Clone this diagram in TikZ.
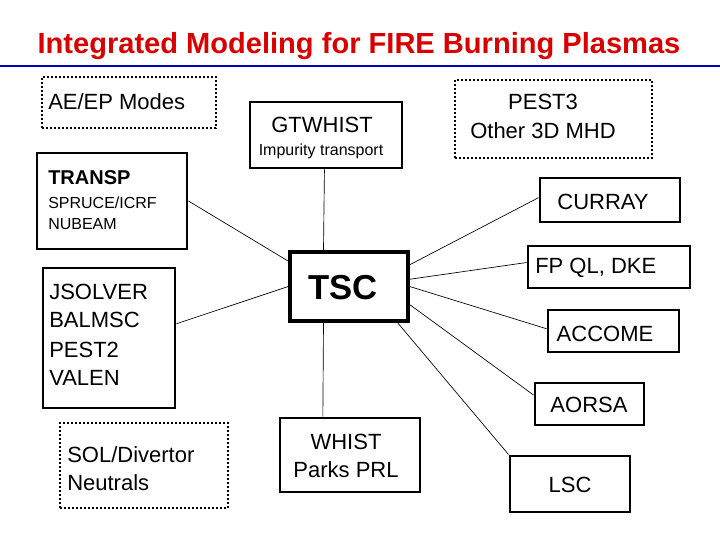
\documentclass[tikz,border=0pt]{standalone}
\usepackage{fontspec}
\setmainfont{Liberation Sans}
\usetikzlibrary{calc}
\begin{document}
\begin{tikzpicture}[x=0.75pt,y=-0.75pt,
  box/.style={draw,line width=2.2pt,minimum width=#1,inner sep=0pt},
  dbox/.style={draw,line width=2.2pt,dash pattern=on 1.5pt off 1.5pt,inner sep=0pt},
  lbl/.style={inner sep=0pt,font=\fontsize{16.5}{19}\selectfont},
  sm/.style={inner sep=0pt,font=\fontsize{12}{14}\selectfont},
  conn/.style={line width=0.5pt}]
\useasboundingbox (0,0) rectangle (720,540);
\node[inner sep=0pt,text=red!85!black,font=\bfseries\fontsize{21.8}{24}\selectfont] (title) at (359,46) {Integrated Modeling for FIRE Burning Plasmas};
\draw[line width=2.2pt,blue!70!black] (0,66) coordinate (l0) -- (720,66) coordinate (l1);
% boxes
\node[dbox,minimum width=174*0.75pt,minimum height=51*0.75pt] (aeep) at (129,102.5) {};
\node[lbl,anchor=west] (taeep) at (48,102) {AE/EP Modes};
\node[box=152*0.75pt,minimum height=66*0.75pt] (gtw) at (326,135) {};
\node[lbl] (tgtw) at (322,125) {GTWHIST};
\node[sm] (timp) at (321,151) {Impurity transport};
\node[dbox,minimum width=197*0.75pt,minimum height=78*0.75pt] (pest) at (553.5,119) {};
\node[lbl] (tpest1) at (543,102) {PEST3};
\node[lbl] (tpest2) at (543,131) {Other 3D MHD};
\node[box=150*0.75pt,minimum height=96*0.75pt] (transp) at (112,201) {};
\node[inner sep=0pt,anchor=west,font=\bfseries\fontsize{15}{17}\selectfont] (ttr1) at (48,178) {TRANSP};
\node[sm,anchor=west] (ttr2) at (48,203) {SPRUCE/ICRF};
\node[sm,anchor=west] (ttr3) at (48,224) {NUBEAM};
\node[box=140*0.75pt,minimum height=44*0.75pt] (curray) at (610,200) {};
\node[lbl] (tcur) at (603,202) {CURRAY};
\node[box=132*0.75pt,minimum height=140*0.75pt] (jsol) at (109,338) {};
\node[lbl,anchor=west] (tj1) at (49,292) {JSOLVER};
\node[lbl,anchor=west] (tj2) at (49,320) {BALMSC};
\node[lbl,anchor=west] (tj3) at (49,350) {PEST2};
\node[lbl,anchor=west] (tj4) at (49,378) {VALEN};
\node[box=118*0.75pt,minimum height=69*0.75pt,line width=2.6pt] (tsc) at (349,286.5) {};
\node[inner sep=0pt,font=\bfseries\fontsize{26}{30}\selectfont] (ttsc) at (343,288) {TSC};
\node[box=162*0.75pt,minimum height=42*0.75pt] (fpql) at (609,267) {};
\node[lbl,anchor=west] (tfp) at (535,268) {FP QL, DKE};
\node[box=131*0.75pt,minimum height=42*0.75pt] (accome) at (613.5,331) {};
\node[lbl] (tacc) at (605,334) {ACCOME};
\node[box=109*0.75pt,minimum height=42*0.75pt] (aorsa) at (589.5,404) {};
\node[lbl] (taor) at (589,405) {AORSA};
\node[dbox,minimum width=168*0.75pt,minimum height=85*0.75pt] (sol) at (144,465.5) {};
\node[lbl,anchor=west] (ts1) at (67,455) {SOL/Divertor};
\node[lbl,anchor=west] (ts2) at (67,483) {Neutrals};
\node[box=140*0.75pt,minimum height=74*0.75pt] (whist) at (350,455) {};
\node[lbl] (tw1) at (346,442) {WHIST};
\node[lbl] (tw2) at (346,470) {Parks PRL};
\node[box=120*0.75pt,minimum height=56*0.75pt] (lsc) at (570,484) {};
\node[lbl] (tlsc) at (570,485) {LSC};
% connectors
\draw[conn] (transp.east) -- ($(tsc.north west)!0.15!(tsc.south west)$);
\draw[conn] ($(gtw.south west)!0.49!(gtw.south east)$) -- ($(tsc.north west)!0.29!(tsc.north east)$);
\draw[conn] ($(curray.north west)!0.45!(curray.south west)$) -- ($(tsc.north east)!0.2!(tsc.south east)$);
\draw[conn] ($(fpql.north west)!0.4!(fpql.south west)$) -- ($(tsc.north east)!0.4!(tsc.south east)$);
\draw[conn] ($(accome.north west)!0.45!(accome.south west)$) -- ($(tsc.north east)!0.5!(tsc.south east)$);
\draw[conn] ($(aorsa.north west)!0.3!(aorsa.south west)$) -- ($(tsc.north east)!0.75!(tsc.south east)$);
\draw[conn] (lsc.north west) -- ($(tsc.south west)!0.9!(tsc.south east)$);
\draw[conn] ($(whist.north west)!0.31!(whist.north east)$) -- ($(tsc.south west)!0.29!(tsc.south east)$);
\draw[conn] ($(jsol.north east)!0.4!(jsol.south east)$) -- ($(tsc.north west)!0.5!(tsc.south west)$);
\end{tikzpicture}
\end{document}
